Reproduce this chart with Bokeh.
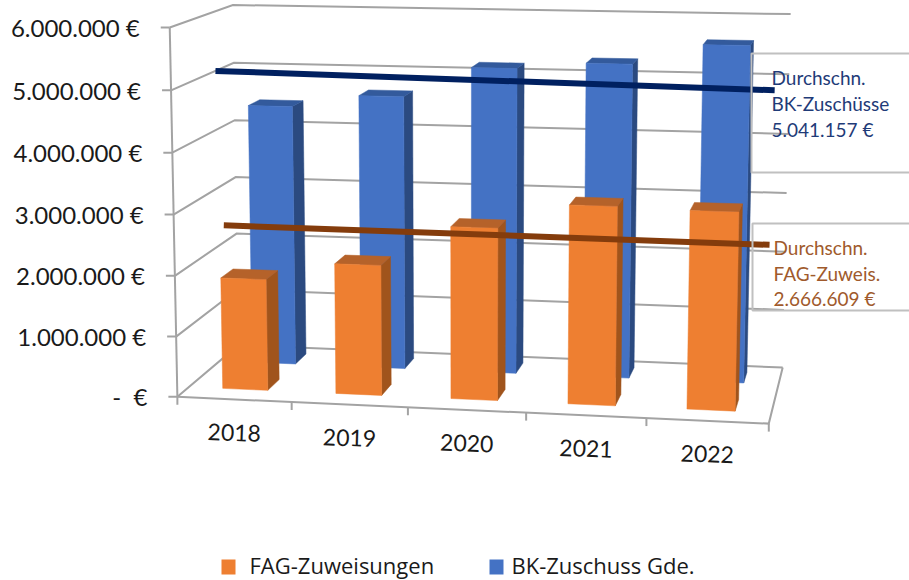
from bokeh.plotting import figure
from bokeh.embed import file_html
from bokeh.resources import INLINE
from bokeh.core.properties import value
import numpy as np

# ---------- data ----------
years = ["2018", "2019", "2020", "2021", "2022"]
fag_zuweisungen = [1850000, 2150000, 2820000, 3230000, 3200000]
bk_zuschuss = [4430000, 4640000, 5150000, 5260000, 5600000]
avg_bk = 5041157
avg_fag = 2666609
value_ticks = [0, 1000000, 2000000, 3000000, 4000000, 5000000, 6000000]
value_labels = ["-\u00a0\u00a0€", "1.000.000 €", "2.000.000 €", "3.000.000 €", "4.000.000 €", "5.000.000 €", "6.000.000 €"]
legend_names = ["FAG-Zuweisungen", "BK-Zuschuss Gde."]
bk_note = ["Durchschn.", "BK-Zuschüsse", "5.041.157 €"]
fag_note = ["Durchschn.", "FAG-Zuweis.", "2.666.609 €"]

# ---------- perspective camera fitted to the reference's 3D box ----------
# (category, depth, millions) -> page pixel
calib = [
    (0,0,0,177,396),(1,0,0,291,402),(2,0,0,408,408),(3,0,0,526,413),(4,0,0,645,418),(5,0,0,768,423),
    (0,0,1,176,335),(0,0,2,175,275),(0,0,3,174,213),(0,0,4,172,152),(0,0,5,170,90),(0,0,6,168,27),
    (0,1,0,237,345),(0,1,3,235,177),(0,1,6,233,5),
    (5,1,0,782,366),(5,1,3,787,192),(5,1,6,790,14),
]
A, b = [], []
for u, d, v, x, y in calib:
    A.append([u, d, v, 1, 0, 0, 0, 0, -x*u, -x*d, -x*v]); b.append(x)
    A.append([0, 0, 0, 0, u, d, v, 1, -y*u, -y*d, -y*v]); b.append(y)
m = np.linalg.lstsq(np.array(A, float), np.array(b, float), rcond=None)[0]

def proj(u, d, val):
    v = val / 1e6
    w = m[8]*u + m[9]*d + m[10]*v + 1
    return ((m[0]*u + m[1]*d + m[2]*v + m[3]) / w,
            (m[4]*u + m[5]*d + m[6]*v + m[7]) / w)

p = figure(width=909, height=580, x_range=(0, 909), y_range=(580, 0),
           output_backend="svg", toolbar_location=None, min_border=0)
p.axis.visible = False
p.grid.visible = False
p.outline_line_color = None
p.background_fill_color = "white"
p.border_fill_color = "white"

GRID = "#a3a3a3"

def seg(points, color=GRID, width=2):
    p.line([q[0] for q in points], [q[1] for q in points], line_color=color,
           line_width=width, line_cap="butt", line_join="miter")

# walls
for t in value_ticks:
    seg([proj(0, 0, t), proj(0, 1, t), proj(5, 1, t)])
    x, y = proj(0, 0, t)
    seg([(x - 9, y), (x, y)])
seg([proj(0, 0, 0), proj(0, 0, 6000000)])
seg([proj(0, 0, 0), proj(5, 0, 0), proj(5, 1, 0)])
for i in range(6):
    x, y = proj(i, 0, 0)
    seg([(x, y), (x, y + 8)])

# bars
def bars(vals, d0, d1, face, side, top):
    for i, val in enumerate(vals):
        u0, u1 = i + 0.3, i + 0.7
        faces = [
            ([(u1, d0, 0), (u1, d1, 0), (u1, d1, val), (u1, d0, val)], side),
            ([(u0, d0, val), (u1, d0, val), (u1, d1, val), (u0, d1, val)], top),
            ([(u0, d0, 0), (u1, d0, 0), (u1, d0, val), (u0, d0, val)], face),
        ]
        for corners, col in faces:
            pts = [proj(*c) for c in corners]
            p.patch([q[0] for q in pts], [q[1] for q in pts], fill_color=col, line_color=col, line_width=0.5)

bars(bk_zuschuss, 0.68, 0.88, "#4472c4", "#2b4a80", "#335a9c")
bars(fag_zuweisungen, 0.18, 0.38, "#ee7f31", "#a0541c", "#b5622a")

# average lines
a0, a1 = proj(0.05, 0.6, avg_bk), proj(4.95, 0.35, avg_bk)
seg([a0, a1], "#002060", 6)
b0, b1 = proj(0.29, 0.26, avg_fag), proj(4.95, 0.22, avg_fag)
seg([b0, b1], "#843c0c", 6)

# value axis labels
FONT = value("Lato")
for t, lab in zip(value_ticks, value_labels):
    x, y = proj(0, 0, t)
    p.text([x - 30], [y], text=[lab], text_font=FONT, text_font_size="24px", text_align="right",
           text_baseline="middle", text_color="#1a1a1a")

# category labels
for i, lab in enumerate(years):
    x, y = proj(i + 0.5, 0, 0)
    p.text([x], [y + 33], text=[lab], text_font=FONT, text_font_size="23px", text_align="center",
           text_baseline="middle", text_color="#1a1a1a", angle=-0.035)

# note boxes (transparent, grey frame)
BOX = "#c0c0c0"
p.line([909, 751, 751, 909], [53, 53, 172, 172], line_color=BOX, line_width=2)
p.line([909, 752, 752, 909], [223, 223, 310, 310], line_color=BOX, line_width=2)
for lab, y in zip(bk_note, [77, 103, 129]):
    p.text([771], [y], text=[lab], text_font=FONT, text_font_size="19px", text_baseline="middle", text_color="#1f3b78")
for lab, y in zip(fag_note, [247, 273, 298]):
    p.text([773], [y], text=[lab], text_font=FONT, text_font_size="19px", text_baseline="middle", text_color="#a05a2c")

# legend
p.quad(left=[221, 489], right=[235, 503], top=[559, 559], bottom=[574, 574],
       fill_color=["#ee7f31", "#4472c4"], line_color=None)
p.text([249, 511], [564, 564], text=legend_names, text_font=value("Open Sans"), text_font_size="22px",
       text_baseline="middle", text_color="#1a1a1a")

open("out.html", "w").write(file_html(p, INLINE))
